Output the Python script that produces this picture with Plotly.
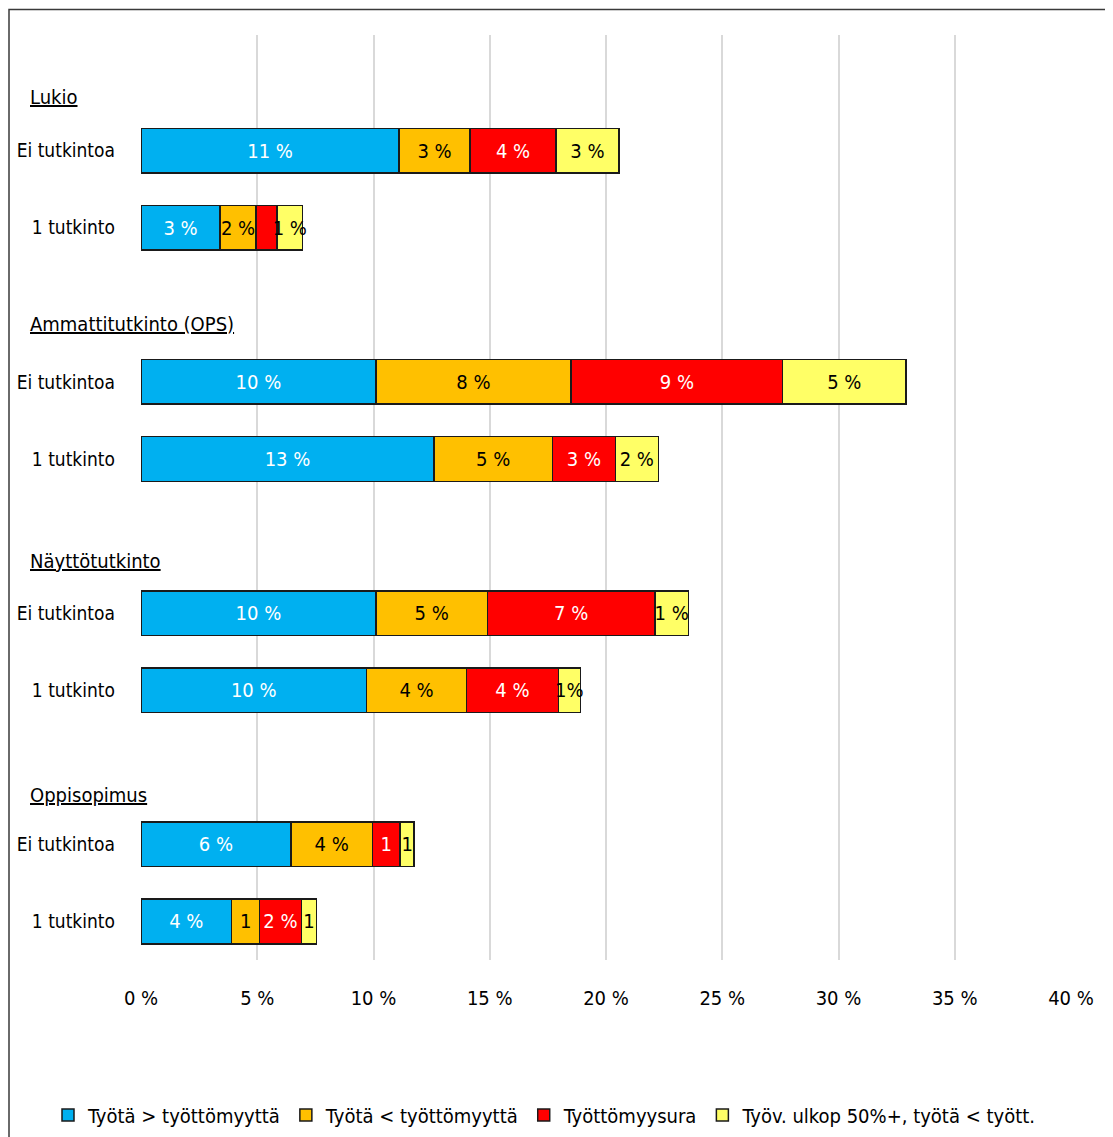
import plotly.graph_objects as go

# ---- data ----
groups = ["Lukio", "Ammattitutkinto (OPS)", "Näyttötutkinto", "Oppisopimus"]
row_labels = ["Ei tutkintoa", "1 tutkinto"]

series_names = ["Työtä > työttömyyttä", "Työtä < työttömyyttä", "Työttömyysura", "Työv. ulkop 50%+, työtä < tyött."]
series_colors = ["#00B0F0", "#FFC000", "#FF0000", "#FFFF66"]
series_text_colors = ["white", "black", "white", "black"]

# order: Lukio Ei, Lukio 1, Amm Ei, Amm 1, Näyttö Ei, Näyttö 1, Oppi Ei, Oppi 1
tyota_yli = [11.1, 3.4, 10.1, 12.6, 10.1, 9.7, 6.45, 3.9]
tyota_alle = [3.05, 1.55, 8.4, 5.1, 4.8, 4.3, 3.5, 1.2]
tyottomyysura = [3.7, 0.9, 9.1, 2.7, 7.2, 3.95, 1.2, 1.8]
tyov_ulkop = [2.7, 1.1, 5.3, 1.85, 1.45, 0.95, 0.6, 0.65]

labels_yli = ["11 %", "3 %", "10 %", "13 %", "10 %", "10 %", "6 %", "4 %"]
labels_alle = ["3 %", "2 %", "8 %", "5 %", "5 %", "4 %", "4 %", "1"]
labels_ura = ["4 %", "", "9 %", "3 %", "7 %", "4 %", "1", "2 %"]
labels_ulkop = ["3 %", "1 %", "5 %", "2 %", "1 %", "1%", "1", "1"]

x_ticks = [0, 5, 10, 15, 20, 25, 30, 35, 40]
x_ticktext = [f"{t} %" for t in x_ticks]

# ---- layout of rows: each group has a header slot followed by its rows ----
slot_text = []
header_slots = []
bar_slots = []
for g in groups:
    header_slots.append(len(slot_text))
    slot_text.append("")
    for r in row_labels:
        bar_slots.append(len(slot_text))
        slot_text.append(r)

FONT = "DejaVu Sans Condensed, Liberation Sans Narrow, sans-serif"
FS = 20

fig = go.Figure()
all_vals = [tyota_yli, tyota_alle, tyottomyysura, tyov_ulkop]
all_labels = [labels_yli, labels_alle, labels_ura, labels_ulkop]
for name, vals, labs, col, tcol in zip(series_names, all_vals, all_labels, series_colors, series_text_colors):
    fig.add_trace(go.Bar(
        y=bar_slots, x=vals, name=name, orientation="h",
        marker=dict(color=col, line=dict(color="#1a1a1a", width=1.5)),
        text=labs, textposition="inside", insidetextanchor="middle",
        textangle=0, cliponaxis=False,
        insidetextfont=dict(family=FONT, size=FS, color=tcol),
        hoverinfo="skip",
    ))

# the page places the figure 8px from the top-left corner
OFF = 8
W, H = 1113 - OFF, 1137 - OFF
ml, mt = 141 - OFF, 35 - OFF
mr = W - (1071 - OFF)
mb = H - (960 - OFF)
pw = W - ml - mr
ph = H - mt - mb

def px_x(px):
    return (px - OFF - ml) / pw

def px_y(py):
    return (H - mb - (py - OFF)) / ph

header_shift = [-23, -19, -25, -28]
annotations = []
for g, s, sh in zip(groups, header_slots, header_shift):
    annotations.append(dict(
        x=px_x(28), xref="paper", y=s, yref="y", yshift=sh,
        text=f"<u>{g}</u>", showarrow=False, xanchor="left", yanchor="middle",
        font=dict(family=FONT, size=FS, color="black"),
    ))

fig.update_layout(
    width=W, height=H,
    margin=dict(l=ml, r=mr, t=mt, b=mb, autoexpand=False),
    barmode="stack", bargap=0.42,
    plot_bgcolor="white", paper_bgcolor="white",
    font=dict(family=FONT, size=FS, color="black"),
    uniformtext=dict(minsize=FS, mode="show"),
    xaxis=dict(range=[0, 40], tickvals=x_ticks, ticktext=x_ticktext,
               showgrid=True, gridcolor="#d9d9d9", gridwidth=2,
               zeroline=False, showline=False, ticks="", automargin=False,
               ticklabelstandoff=24,
               tickfont=dict(family=FONT, size=FS, color="black")),
    yaxis=dict(range=[len(slot_text) - 0.5, -0.5], tickmode="array",
               tickvals=list(range(len(slot_text))), ticktext=slot_text,
               showgrid=False, zeroline=False, showline=False, ticks="",
               automargin=False, ticklabelstandoff=25,
               tickfont=dict(family=FONT, size=19, color="black")),
    showlegend=True,
    legend=dict(orientation="h", x=px_x(48), xanchor="left",
                y=px_y(1115), yanchor="middle",
                font=dict(family=FONT, size=FS, color="black"),
                itemwidth=30, traceorder="normal", bgcolor="rgba(0,0,0,0)"),
    annotations=annotations,
    shapes=[dict(type="rect", xref="paper", yref="paper",
                 x0=px_x(OFF + 1), x1=px_x(W + OFF + 10),
                 y0=px_y(H + OFF + 10), y1=px_y(OFF + 1.5),
                 line=dict(color="#3a3a3a", width=1.5), fillcolor="rgba(0,0,0,0)",
                 layer="below")],
)

fig.write_html("out.html")
